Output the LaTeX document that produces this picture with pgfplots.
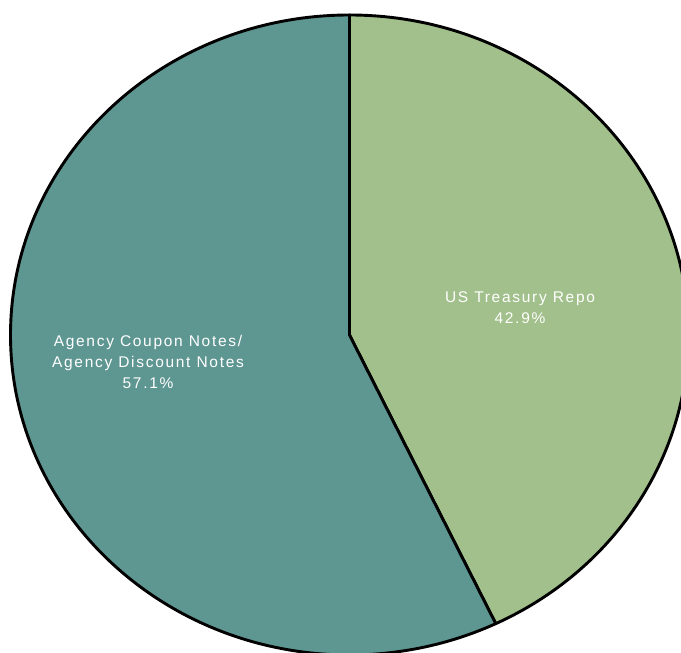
\documentclass[border=0pt]{standalone}
\usepackage{pgfplots}
\pgfplotsset{compat=1.18}
\usepackage{fontspec}
\setmainfont{Liberation Sans}
\newfontfamily\lblfont[LetterSpace=11]{Liberation Sans}
\definecolor{teal}{HTML}{5E9691}
\definecolor{sage}{HTML}{A2C08B}
\begin{document}
\begin{tikzpicture}
% shares in percent
\def\valA{42.9}% US Treasury Repo
\def\valB{57.1}% Agency Coupon Notes / Agency Discount Notes
\pgfmathsetmacro{\angA}{90-3.6*\valA}
\begin{axis}[
  width=681pt, height=653pt, scale only axis,
  xmin=0, xmax=681, ymin=0, ymax=653,
  hide axis, clip=true,
]
\filldraw[fill=sage, draw=black, line width=2.9pt, line join=round]
  (axis cs:349.5,318) -- (axis cs:349.5,638)
  arc[start angle=90, end angle=\angA, x radius=339, y radius=320] -- cycle;
\filldraw[fill=teal, draw=black, line width=2.9pt, line join=round]
  (axis cs:349.5,318) -- (axis cs:349.5,638)
  arc[start angle=90, end angle=\angA+360, x radius=339, y radius=320] -- cycle;
\node[white, font=\lblfont\fontsize{15.5pt}{21pt}\selectfont, align=center, inner sep=0pt]
  at (axis cs:520,345) {US Treasury Repo\\\valA\%};
\node[white, font=\lblfont\fontsize{15.5pt}{21pt}\selectfont, align=center, inner sep=0pt]
  at (axis cs:148,291) {Agency Coupon Notes/\\Agency Discount Notes\\\valB\%};
\end{axis}
\pgfresetboundingbox
\path (current axis.south west) rectangle (current axis.north east);
\end{tikzpicture}
\end{document}
